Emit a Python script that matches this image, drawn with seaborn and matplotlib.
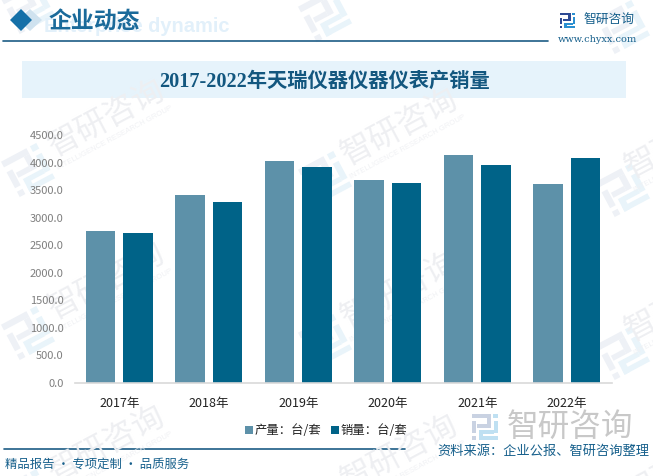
import numpy as np
import pandas as pd
import seaborn as sns
import matplotlib.pyplot as plt
from matplotlib.patches import Polygon, Rectangle

# chart values
years = ['2017年', '2018年', '2019年', '2020年', '2021年', '2022年']
output = [2758, 3412, 4029, 3684, 4138, 3611]
sales = [2722, 3285, 3920, 3630, 3956, 4083]
series_names = ['产量：台/套', '销量：台/套']

W, H = 653, 476
CJK = 'Noto Sans CJK SC'
SERIF = ['Liberation Serif', CJK]
DARK = '#17608c'

# logo pieces as x, y, w, h on a unit square
LOGO_A = [(0, 0, .72, .16), (.56, .16, .16, .4), (.2, .42, .36, .14), (0, .3, .16, .45), (0, .85, .16, .15)]
LOGO_B = [(.82, 0, .18, .16), (.84, .28, .16, .48), (.42, .64, .42, .13), (.28, .64, .16, .36), (.28, .86, .72, .14)]


def draw_logo(ax, cx, cy, size, color_a, color_b, angle=0):
    a = np.radians(angle)
    for rects, color in [(LOGO_A, color_a), (LOGO_B, color_b)]:
        for x, y, w, h in rects:
            pts = np.array([[x, y], [x + w, y], [x + w, y + h], [x, y + h]]) - 0.5
            px = cx + size * (pts[:, 0] * np.cos(a) + pts[:, 1] * np.sin(a))
            py = cy + size * (-pts[:, 0] * np.sin(a) + pts[:, 1] * np.cos(a))
            ax.add_patch(Polygon(np.c_[px, py], color=color, lw=0))


sns.set_theme(style='white')
plt.rcParams['font.family'] = [CJK, 'DejaVu Sans']

df = pd.DataFrame({'year': years, series_names[0]: output, series_names[1]: sales})
df = df.melt(id_vars='year', var_name='series', value_name='value')

fig = plt.figure(figsize=(W / 100, H / 100), dpi=100, facecolor='white')

# backdrop layer in pixel coordinates (watermarks, header, footer)
bg = fig.add_axes([0, 0, 1, 1], zorder=0)
bg.set_xlim(0, W)
bg.set_ylim(H, 0)
bg.axis('off')

# watermark, repeats over the page
for col, (tx, ty, lx, ly) in enumerate([(107, 118, 28, 170), (400, 127, 325, 178), (684, 140, 623, 190)]):
    for row in range(-1, 3):
        dy = row * 163
        draw_logo(bg, lx, ly + dy, 40, '#eef1f6', '#e9f4fa', angle=28)
        if row >= 0:
            bg.text(tx, ty + dy, '智研咨询', fontsize=23, color='#eeeff2', rotation=28,
                    ha='center', va='center', rotation_mode='anchor', clip_on=True)
            bg.text(tx + 8, ty + dy + 20, 'INTELLIGENCE RESEARCH GROUP', fontsize=5.5, color='#f0f1f4',
                    rotation=28, ha='center', va='center', rotation_mode='anchor',
                    family='Liberation Sans', clip_on=True)

# header
bg.text(230, 26, 'Enterprise dynamic', fontsize=14.4, fontweight='bold', color='#e2f0fa',
        family='Liberation Sans', ha='right', va='center')
bg.add_patch(Polygon([[30, 9], [42, 20], [30, 31], [18, 20]], color='#cfe2ef', lw=0))
bg.add_patch(Polygon([[21, 9], [32, 20], [21, 31], [10, 20]], color='#1570a8', lw=0))
bg.text(49, 21, '企业动态', fontsize=16.5, color='#1a6a9a', ha='left', va='center', fontweight='bold')
bg.plot([3, 548], [41, 41], color='#1c5c85', lw=1.2)

# brand mark top right
draw_logo(bg, 567.5, 20.5, 15, '#2d4a94', '#2a8fd0')
bg.text(583, 20, '智研咨询', fontsize=9.2, color=DARK, ha='left', va='center')
bg.text(558, 40, 'www.chyxx.com', fontsize=7, color=DARK, ha='left', va='center', family='DejaVu Serif')

# title band
bg.add_patch(Rectangle((22, 61), 604, 37, color='#e6f3fb', lw=0))
bg.text(324, 82, '2017-2022年天瑞仪器仪器仪表产销量', fontsize=14.6, fontweight='bold',
        color='#13577f', ha='center', va='center', family=SERIF)

# footer
bg.plot([4, 405], [449, 449], color='#1c5c85', lw=1.2)
bg.text(5, 464, '精品报告 · 专项定制 · 品质服务', fontsize=8.9, color=DARK, ha='left', va='center')
draw_logo(bg, 485, 426.5, 26, '#c9d2e2', '#bfe0f2')
bg.text(507, 427, '智研咨询', fontsize=22.8, color='#c8c8c8', ha='left', va='center')
bg.text(437, 451, '资料来源：企业公报、智研咨询整理', fontsize=9.5, color=DARK, ha='left', va='center')

# bar chart
ax = fig.add_axes([74.5 / W, 1 - 383 / H, 537 / W, 248 / H], zorder=1)
ax.patch.set_alpha(0)
sns.barplot(data=df, x='year', y='value', hue='series', palette=['#5d91a9', '#006388'],
            saturation=1, width=0.838, gap=0.213, linewidth=0, ax=ax)
ax.set_ylim(0, 4500)
ax.set_yticks(range(0, 5000, 500))
ax.set_yticklabels([f'{v:.1f}' for v in range(0, 5000, 500)], color='#7f7f7f', fontsize=8)
ax.set_xlabel('')
ax.set_ylabel('')
ax.tick_params(axis='x', labelsize=9, labelcolor='#222222', length=0, pad=10)
ax.tick_params(axis='y', length=0, pad=8)
sns.despine(ax=ax, left=True)
ax.spines['bottom'].set_color('#d9d9d9')
ax.spines['bottom'].set_linewidth(1.2)
ax.legend(loc='center', bbox_to_anchor=(326 / W, 1 - 431 / H), bbox_transform=fig.transFigure,
          ncol=2, frameon=False, fontsize=8.9, handlelength=0.65, handleheight=0.65,
          handletextpad=0.1, columnspacing=0.8, labelcolor='#222222')

plt.savefig('out.png', dpi=100)
